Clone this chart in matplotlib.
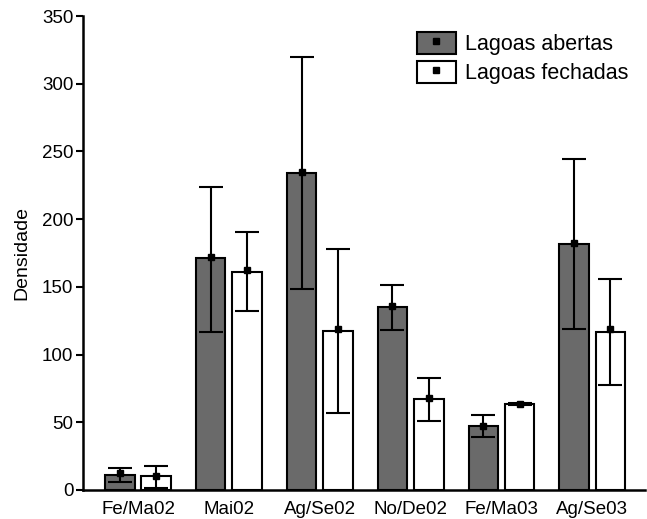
import matplotlib
matplotlib.use("Agg")
import matplotlib.pyplot as plt
from matplotlib.patches import Rectangle
from matplotlib.lines import Line2D
import numpy as np

plt.rcParams['font.family'] = ['Liberation Sans', 'DejaVu Sans']

categories = ["Fe/Ma02", "Mai02", "Ag/Se02", "No/De02", "Fe/Ma03", "Ag/Se03"]
series_names = ["Lagoas abertas", "Lagoas fechadas"]

# bar heights
abertas = [11, 171, 234, 135, 47.5, 182]
fechadas = [10, 161, 117.5, 67, 63.5, 117]
# marker (mean) values
abertas_mean = [12.3, 172, 235, 136, 47.5, 182.7]
fechadas_mean = [10.6, 162.5, 118.7, 68.2, 63.8, 118.7]
# error bar lower / upper limits
abertas_lo = [6, 117, 148.4, 118.2, 39.4, 119]
abertas_hi = [16, 223.6, 319.8, 151.4, 55.2, 244.5]
fechadas_lo = [1.7, 132.4, 57.1, 50.7, 63.0, 77.8]
fechadas_hi = [17.7, 190.3, 178, 82.7, 64.6, 155.8]

yticks = [0, 50, 100, 150, 200, 250, 300, 350]

fig = plt.figure(figsize=(6.47, 5.19), dpi=100)
ax = fig.add_axes([83/647, 1-490/519, (645-83)/647, (490-16)/519])

x = np.arange(len(categories))
w = 0.325
off = 0.2
gray = '#6a6a6a'

def draw(xpos, h, mean, lo, hi, fc):
    ax.bar(xpos, h, width=w, color=fc, edgecolor='black', linewidth=1.5, zorder=2)
    mean = np.array(mean); lo = np.array(lo); hi = np.array(hi)
    ax.errorbar(xpos, mean, yerr=[mean-lo, hi-mean], fmt='s', color='black',
                markersize=5, elinewidth=1.5, capsize=8.6, capthick=1.5, zorder=3)

draw(x-off, abertas, abertas_mean, abertas_lo, abertas_hi, gray)
draw(x+off, fechadas, fechadas_mean, fechadas_lo, fechadas_hi, 'white')

ax.set_xlim(-0.606, 5.58)
ax.set_ylim(0, 350)
ax.set_yticks(yticks)
ax.set_xticks(x)
ax.set_xticklabels(categories, fontsize=13.5)
ax.tick_params(axis='y', labelsize=13.5, length=5, width=1.5, direction='out', pad=2)
ax.tick_params(axis='x', length=0, pad=8)
for s in ['top', 'right']:
    ax.spines[s].set_visible(False)
for s in ['left', 'bottom']:
    ax.spines[s].set_linewidth(1.8)
ax.set_ylabel("Densidade", fontsize=14, labelpad=8)

h1 = (Rectangle((0, 0), 1, 1, facecolor=gray, edgecolor='black', linewidth=1.5),
      Line2D([], [], marker='s', color='black', linestyle='none', markersize=5))
h2 = (Rectangle((0, 0), 1, 1, facecolor='white', edgecolor='black', linewidth=1.5),
      Line2D([], [], marker='s', color='black', linestyle='none', markersize=5))
leg = fig.legend([h1, h2], series_names, loc='upper left',
                 bbox_to_anchor=(417/647, 1-32/519), frameon=False, fontsize=15.5,
                 handlelength=1.8, handleheight=1.2, handletextpad=0.45,
                 labelspacing=0.25, borderpad=0, borderaxespad=0)

fig.savefig("out.png", dpi=100)
